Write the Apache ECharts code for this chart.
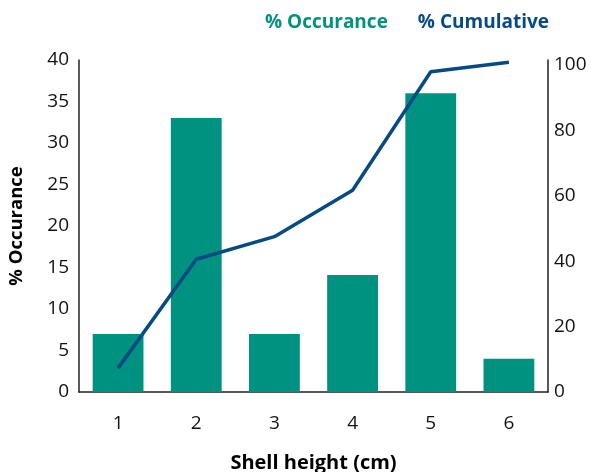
<!DOCTYPE html>
<html><head><meta charset="utf-8">
<script src="https://cdn.jsdelivr.net/npm/echarts@6/dist/echarts.min.js"></script>
<style>html,body{margin:0;padding:0;background:#fff}#c{width:592px;height:472px}</style>
</head><body><div id="c"></div>
<script>
const categories = ['1','2','3','4','5','6'];
const occurance = [7.0, 33.0, 7.0, 14.1, 36.0, 4.0];
const cumulative = [7.3, 40.6, 47.5, 61.7, 97.9, 100.8];
const leftTicks = [0, 5, 10, 15, 20, 25, 30, 35, 40];
const rightTicks = [0, 20, 40, 60, 80, 100];

const teal = '#009280';
const navy = '#064a84';
const font = '"Open Sans", sans-serif';

const chart = echarts.init(document.getElementById('c'));
chart.setOption({
  animation: false,
  textStyle: {fontFamily: font},
  legend: {
    top: 8, right: 38, itemWidth: 0, itemHeight: 0, itemGap: 24,
    textStyle: {fontSize: 19, fontWeight: 'bold', fontFamily: font},
    data: [
      {name: '% Occurance', textStyle: {color: teal}},
      {name: '% Cumulative', textStyle: {color: navy}}
    ]
  },
  grid: {left: 79, right: 44, top: 60, bottom: 80, containLabel: false, outerBoundsMode: 'none'},
  xAxis: {
    type: 'category', data: categories,
    name: 'Shell height (cm)', nameLocation: 'middle', nameGap: 61,
    nameTextStyle: {fontSize: 20, fontWeight: 'bold', color: '#000', fontFamily: font},
    axisLine: {lineStyle: {color: '#222', width: 1.5}},
    axisTick: {show: false},
    axisLabel: {fontSize: 19, color: '#111', margin: 22, fontFamily: font}
  },
  yAxis: [{
    type: 'value', min: 0, max: 40, interval: 5,
    name: '% Occurance', nameLocation: 'middle', nameGap: 53, nameRotate: 90,
    nameTextStyle: {fontSize: 18.5, fontWeight: 'bold', color: '#000', fontFamily: font},
    axisLine: {show: true, lineStyle: {color: '#222', width: 1.5}},
    axisTick: {show: false},
    splitLine: {show: false},
    axisLabel: {fontSize: 19, color: '#111', margin: 10, fontFamily: font,
      formatter: v => leftTicks.includes(v) ? String(v) : ''}
  }, {
    type: 'value', min: 0, max: 101.5, interval: 20, position: 'right',
    axisLine: {show: true, lineStyle: {color: '#222', width: 1.5}},
    axisTick: {show: false},
    splitLine: {show: false},
    axisLabel: {fontSize: 19, color: '#111', margin: 6, fontFamily: font,
      formatter: v => rightTicks.includes(v) ? String(v) : ''}
  }],
  series: [{
    name: '% Occurance', type: 'bar', data: occurance, yAxisIndex: 0,
    barCategoryGap: '35%', itemStyle: {color: teal}, z: 1
  }, {
    name: '% Cumulative', type: 'line', data: cumulative, yAxisIndex: 1,
    showSymbol: false, symbol: 'none', clip: false,
    lineStyle: {color: navy, width: 3.5}, itemStyle: {color: navy}, z: 3
  }]
});
</script></body></html>
